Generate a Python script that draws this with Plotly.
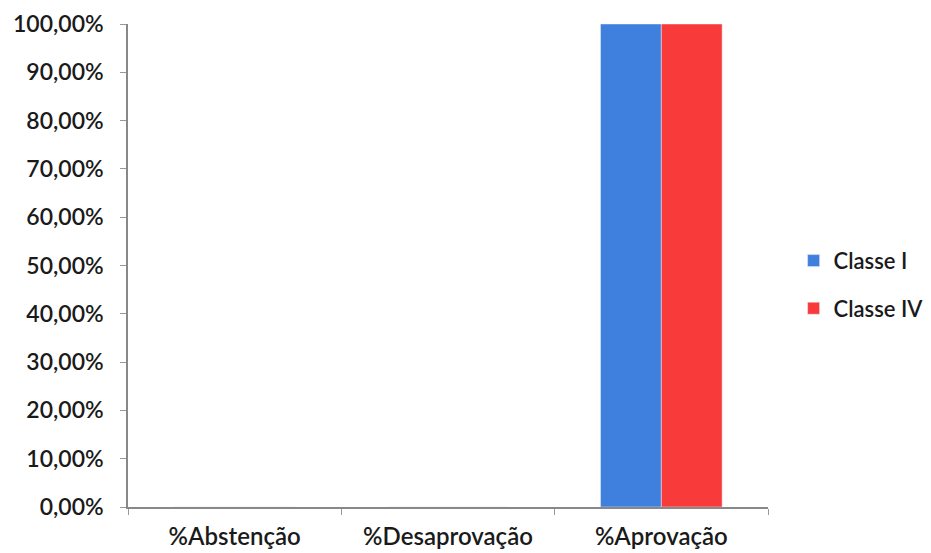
import plotly.graph_objects as go

categories = ["%Abstenção", "%Desaprovação", "%Aprovação"]
classe_i = [0.0, 0.0, 1.0]
classe_iv = [0.0, 0.0, 1.0]
tick_vals = [0, 0.1, 0.2, 0.3, 0.4, 0.5, 0.6, 0.7, 0.8, 0.9, 1.0]
tick_text = ["0,00%", "10,00%", "20,00%", "30,00%", "40,00%", "50,00%",
             "60,00%", "70,00%", "80,00%", "90,00%", "100,00%"]

fig = go.Figure()
fig.add_trace(go.Bar(x=categories, y=classe_i, name="Classe I",
                     marker_color="#3F7FDE", legendgroup="a"))
fig.add_trace(go.Bar(x=categories, y=classe_iv, name="Classe IV",
                     marker_color="#F93A3A", legendgroup="b"))

font_family = "Lato, Open Sans, sans-serif"
fig.update_layout(
    width=931, height=553,
    margin=dict(l=120, r=171, t=16, b=54, autoexpand=False),
    paper_bgcolor="white", plot_bgcolor="white",
    barmode="group", bargap=0.43, bargroupgap=0,
    font=dict(family=font_family, size=22, color="#1a1a1a", weight=600),
    legend=dict(x=1.04, y=0.46, xanchor="left", yanchor="middle",
                traceorder="grouped", tracegroupgap=16,
                font=dict(size=22, color="#1a1a1a", weight=600), itemwidth=30),
    showlegend=True,
)
fig.update_yaxes(range=[0, 1], tickvals=tick_vals, ticktext=tick_text, automargin=False,
                 showgrid=False, showline=True, linecolor="#888888", linewidth=1.5,
                 ticks="outside", ticklen=6, tickcolor="#999999", ticklabelstandoff=12,
                 tickfont=dict(size=23, color="#1a1a1a", weight=600), zeroline=False)
fig.update_xaxes(showgrid=False, showline=True, linecolor="#888888", linewidth=1.5, automargin=False,
                 ticks="outside", ticklen=6, tickcolor="#999999", tickson="boundaries",
                 ticklabelstandoff=7,
                 tickfont=dict(size=24, color="#1a1a1a", weight=600))

fig.write_html("out.html")
